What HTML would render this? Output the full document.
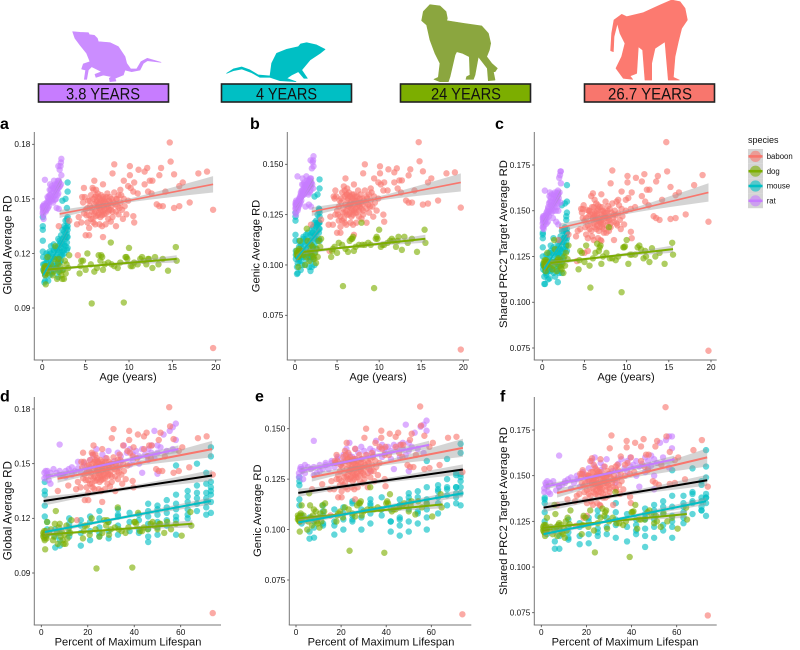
<!DOCTYPE html>
<html lang="en">
<head>
<meta charset="utf-8">
<title>Rate of DNA methylation discordance across species</title>
<style>
html,body{margin:0;padding:0;background:#fff;}
body{width:800px;height:650px;overflow:hidden;}
svg{display:block;font-family:"Liberation Sans",Arial,sans-serif;}
</style>
</head>
<body>
<svg id="chart" xmlns="http://www.w3.org/2000/svg" width="800" height="650" viewBox="0 0 800 650">
  <g>
    <g>
      <path transform="translate(60 20) scale(.33333)" fill="#CB8DFF" stroke="#CB8DFF" stroke-width="2" stroke-linejoin="round" d="M38 35 L60 37 L85 38 L88 44 L103 46 L112 55 L115 65 L150 68 L175 80 L195 110 L200 130 L212 147 L230 147 L243 125 L262 115 L303 127 L262 122 L250 130 L240 150 L215 155 L195 150 L190 165 L165 175 L168 183 L150 185 L148 175 L155 170 L130 165 L108 172 L105 163 L125 155 L95 140 L85 150 L80 178 L73 178 L77 150 L65 147 L70 132 L90 125 L80 100 L60 75 L45 55 Z"/>
      <rect x="38.5" y="84" width="130" height="18" fill="#C77CFF" stroke="#222" stroke-width="1.6"/>
      <text x="66" y="99.5" textLength="74" lengthAdjust="spacingAndGlyphs" font-size="17" fill="#111">3.8 YEARS</text>
    </g>
    <g>
      <path transform="translate(60 20) scale(.33333)" fill="#00BFC4" stroke="#00BFC4" stroke-width="2" stroke-linejoin="round" d="M500 160 L520 147 L545 141 L570 150 L595 165 L630 168 L635 130 L650 100 L680 88 L715 80 L722 72 L740 68 L770 75 L795 88 L780 100 L750 120 L725 150 L742 175 L732 175 L715 155 L695 165 L680 175 L708 185 L660 182 L630 172 L600 172 L575 158 L545 147 L520 152 Z"/>
      <rect x="221.5" y="84" width="130" height="18" fill="#00BFC4" stroke="#222" stroke-width="1.6"/>
      <text x="256" y="99.5" textLength="61" lengthAdjust="spacingAndGlyphs" font-size="17" fill="#111">4 YEARS</text>
    </g>
    <g>
      <path transform="translate(410 0) scale(.33333)" fill="#8BA63F" stroke="#8BA63F" stroke-width="2" stroke-linejoin="round" d="M60 14 L90 18 L108 35 L112 55 L110 62 L160 70 L215 78 L235 100 L242 130 L238 150 L230 170 L245 190 L262 205 L255 215 L250 215 L255 240 L235 242 L232 205 L205 170 L195 225 L190 238 L168 238 L170 230 L180 225 L178 170 L158 160 L140 155 L135 165 L120 230 L115 245 L90 245 L72 238 L85 232 L90 190 L75 160 L60 120 L50 75 L35 62 L40 35 Z"/>
      <rect x="400.5" y="84" width="130" height="18" fill="#7CAE00" stroke="#222" stroke-width="1.6"/>
      <text x="431" y="99.5" textLength="70" lengthAdjust="spacingAndGlyphs" font-size="17" fill="#111">24 YEARS</text>
    </g>
    <g>
      <path transform="translate(410 0) scale(.33333)" fill="#FC7A70" stroke="#FC7A70" stroke-width="2" stroke-linejoin="round" d="M785 0 L810 5 L825 25 L832 60 L815 85 L805 125 L795 170 L790 232 L808 240 L775 240 L768 160 L765 125 L735 145 L725 190 L725 240 L705 240 L698 150 L685 140 L680 220 L660 228 L668 238 L640 235 L618 205 L635 170 L645 130 L630 100 L622 70 L612 110 L610 155 L602 152 L605 100 L612 60 L635 43 L650 50 L700 38 L750 15 Z"/>
      <rect x="584.5" y="84" width="130" height="18" fill="#F8766D" stroke="#222" stroke-width="1.6"/>
      <text x="608" y="99.5" textLength="84" lengthAdjust="spacingAndGlyphs" font-size="17" fill="#111">26.7 YEARS</text>
    </g>
  </g>
  <g id="legend">
    <text x="748" y="143" font-size="9" fill="#111">species</text>
  </g>
</svg>
<script>
const NS = 'http://www.w3.org/2000/svg';
const svg = document.getElementById('chart');

const speciesNames = ['baboon', 'dog', 'mouse', 'rat'];
const speciesColors = ['#F8766D', '#7CAE00', '#00BFC4', '#C77CFF'];
const maxLifespan = [26.7, 24, 4, 3.8];
const drawOrder = [2, 3, 0, 1];

const baboonAge = [19.7,14.7,14.8,15.2,8.3,8.1,10.1,10.1,11.1,11.8,
12.1,13.7,13.5,19,18,15.8,16.2,9.4,10.6,12.4,
12.7,11.8,6,4.8,5.8,7,9,9.9,10.2,10.5,
11,12.2,12.6,14.2,13.2,13.5,13.9,15.2,15.8,17,
19.7,10.5,10.6,4,4.2,3.1,1.9,4.1,7,5,
5.4,8.5,4.6,4.7,5,5.1,5.2,5.4,5.5,5.6,
5.7,5.8,6,6.1,6.1,6.2,6.3,6.3,6.4,6.5,
6.5,6.6,6.7,6.7,6.8,6.9,7,7,7.1,7.2,
7.3,7.4,7.5,7.5,7.6,7.7,7.8,7.9,8,8.1,
8.2,8.3,8.5,8.6,8.7,8.8,9,9.1,9.2,9.4,
9.5,9.7,9.9,4.5,4.8,5.3,5.9,6.6,7.9,
5.5,5.7,5.9,6,6.2,6.2,6.4,6.4,6.5,6.6,
6.6,6.8,6.8,6.9,7,7.1,7.1,7.2,7.3,7.3,
7.4,7.6,7.7,7.8,8,8.1,8.4,8.5,8.9,5.2,
5.4,5.6,5.9,6.1,4.9,8.8,9.3,6.2,7.6,6.9];
const baboonGlobal = [.068,.181,.1705,.1635,.169,.164,.168,.163,.166,.165,
.167,.167,.163,.165,.164,.157,.159,.16,.159,.16,
.16,.158,.16,.156,.156,.158,.155,.157,.156,.154,
.153,.154,.153,.154,.147,.146,.146,.145,.146,.148,
.144,.1405,.137,.136,.14,.138,.135,.119,.129,.13,
.13,.135,.151,.148,.144,.141,.137,.134,.146,.152,
.143,.139,.147,.151,.143,.1405,.149,.145,.153,.147,
.142,.15,.144,.14,.152,.146,.148,.143,.1415,.15,
.136,.145,.153,.147,.143,.149,.151,.144,.146,.14,
.148,.1535,.143,.15,.146,.1415,.148,.152,.144,.15,
.146,.1415,.149,.137,.142,.149,.155,.136,.1375,
.149,.145,.15,.142,.148,.152,.146,.141,.151,.145,
.148,.143,.149,.141,.151,.146,.149,.144,.148,.142,
.151,.146,.144,.148,.15,.143,.147,.15,.145,.145,
.141,.139,.137,.136,.151,.152,.139,.155,.139,.135];
const baboonGenic = [.058,.161,.1515,.1465,.15,.1455,.149,.1455,.1475,.146,
.148,.1475,.1445,.146,.1455,.141,.143,.143,.141,.142,
.142,.141,.143,.137,.139,.14,.138,.141,.14,.137,
.137,.138,.136,.137,.132,.131,.131,.13,.1305,.132,
.1285,.125,.1215,.12,.124,.1225,.12,.107,.115,.116,
.116,.121,.134,.133,.127,.125,.122,.119,.131,.136,
.126,.123,.13,.135,.127,.125,.133,.129,.136,.13,
.126,.134,.128,.124,.135,.13,.132,.127,.126,.134,
.121,.129,.137,.131,.127,.133,.135,.128,.13,.125,
.132,.137,.128,.133,.13,.126,.132,.136,.129,.134,
.131,.127,.133,.12,.125,.132,.137,.121,.123,
.133,.128,.134,.126,.132,.135,.129,.125,.134,.13,
.131,.127,.133,.125,.135,.13,.132,.128,.132,.126,
.134,.13,.129,.131,.133,.127,.131,.134,.129,.129,
.124,.122,.121,.12,.134,.135,.124,.138,.124,.12];
const baboonPrc2 = [.0735,.1875,.1715,.163,.172,.165,.169,.1655,.168,.166,
.17,.169,.166,.1695,.164,.1585,.16,.1605,.16,.1615,
.1615,.158,.1595,.151,.158,.159,.156,.156,.157,.151,
.152,.155,.153,.156,.147,.146,.145,.1455,.146,.148,
.144,.1385,.135,.136,.139,.137,.134,.1225,.1335,.127,
.128,.134,.151,.149,.1445,.141,.137,.135,.147,.15,
.143,.139,.146,.152,.143,.141,.149,.1455,.154,.148,
.142,.151,.1445,.139,.152,.1465,.148,.144,.141,.15,
.138,.146,.155,.147,.142,.15,.1525,.145,.147,.141,
.149,.154,.144,.15,.1475,.143,.1485,.153,.145,.151,
.147,.1425,.15,.14,.146,.1505,.152,.135,.139,
.15,.148,.149,.146,.147,.148,.144,.14,.15,.146,
.153,.141,.144,.143,.15,.145,.152,.143,.147,.14,
.149,.149,.146,.144,.151,.143,.146,.148,.142,.146,
.142,.14,.136,.134,.153,.155,.14,.156,.138,.134];

const dogAge = [.2,.2,.3,.3,.4,.4,.5,.5,.6,1,
1.2,1.4,1.5,1.6,1.7,1.8,2,2.1,2.2,2.4,
2.5,2.6,2.8,3.1,3,4.3,4.4,4.5,4.7,5.2,
5,5.7,5.6,6,6.3,6.5,6.7,6.9,7,7.2,
7.6,7.9,8.3,8.7,9,9.4,9.6,9.8,10,10.2,
10.6,11,11.5,11.7,12,12.2,12.7,13,13.4,13.9,
14.5,15.4,15.5,
.25,.35,.45,.55,.8,1.3,1.9,2.3,2.7,6.8,9.7,11.3,12.3,10.4,8];
const dogGlobal = [.11,.112,.109,.113,.111,.103,.11,.112,.118,.114,
.108,.117,.124,.112,.106,.115,.11,.113,.108,.111,
.106,.116,.114,.119,.112,.109,.113,.116,.116,.12,
.111,.0925,.114,.11,.112,.119,.116,.118,.111,.114,
.115,.126,.113,.112,.115,.093,.118,.117,.123,.113,
.115,.114,.118,.116,.114,.117,.112,.118,.114,.117,
.1105,.1235,.116,
.111,.108,.113,.109,.112,.11,.117,.106,.109,.119,.118,.117,.117,.113,.114];
const dogGenic = [.105,.107,.105,.106,.104,.099,.106,.108,.112,.105,
.1,.118,.112,.106,.102,.107,.105,.109,.104,.106,
.101,.108,.112,.113,.109,.104,.107,.108,.109,.111,
.106,.0895,.11,.108,.1065,.112,.113,.114,.107,.109,
.11,.121,.11,.111,.11,.0885,.113,.113,.1175,.109,
.11,.111,.113,.112,.109,.112,.1075,.114,.111,.113,
.1065,.1175,.111,
.106,.104,.107,.105,.107,.104,.11,.103,.104,.113,.114,.112,.114,.11,.11];
const dogPrc2 = [.12,.122,.119,.123,.121,.117,.12,.122,.127,.122,
.118,.134,.129,.122,.117,.123,.12,.123,.119,.121,
.116,.125,.127,.131,.1235,.118,.123,.128,.127,.131,
.122,.108,.12,.124,.127,.132,.128,.131,.121,.125,
.127,.141,.124,.123,.125,.1055,.13,.1305,.134,.121,
.126,.126,.131,.129,.124,.128,.122,.1295,.125,.127,
.121,.1325,.126,
.121,.119,.123,.12,.121,.12,.124,.118,.12,.13,.13,.13,.125,.126,.124];

const mouseAge = [.06,.06,.06,.06,.06,.1,.1,.24,.24,.24,
.32,.32,.32,.48,.48,.48,.48,.68,.68,.68,
.68,.84,.84,.84,.84,1,1,1,1,1.16,
1.16,1.16,1.32,1.32,1.32,1.32,1.52,1.52,1.52,1.68,
1.68,1.84,1.84,1.84,1.84,1.84,2,2,2,2,
2,2.16,2.16,2.16,2.16,2.32,2.32,2.32,2.32,2.32,
2.52,2.52,2.52,2.52,2.68,2.68,2.68,2.68,2.68,2.84,
2.84,2.84,2.84,2.84,2.92,2.92,2.92,2.92,2.92,
.1,.48,1,1.32,1.68,1.68,1.84,1.84,2,2.16,
2.32,2.32,2.52,2.52,2.68,2.84,2.84,2.92,2.92,2.92];
const mouseGlobal = [.14,.135,.133,.127,.121,.118,.111,.104,.11,.114,
.105,.108,.112,.12,.115,.11,.112,.105,.112,.116,
.119,.108,.113,.118,.121,.11,.115,.12,.124,.109,
.113,.118,.111,.116,.121,.125,.113,.118,.123,.112,
.119,.107,.11,.117,.121,.128,.111,.115,.118,.122,
.127,.119,.123,.126,.13,.111,.121,.125,.149,.133,
.12,.125,.135,.129,.124,.128,.131,.138,.15,.122,
.126,.134,.139,.145,.123,.133,.14,.154,.159,
.114,.117,.112,.122,.114,.122,.114,.124,.125,.116,
.128,.119,.132,.122,.134,.129,.131,.129,.137,.135];
const mouseGenic = [.126,.124,.122,.115,.112,.107,.103,.0955,.099,.106,
.096,.101,.104,.112,.107,.102,.103,.0975,.102,.104,
.11,.1,.105,.108,.111,.104,.107,.113,.114,.1,
.106,.11,.103,.108,.112,.115,.107,.11,.116,.099,
.104,.097,.102,.106,.112,.115,.099,.104,.11,.116,
.118,.103,.109,.116,.119,.1,.106,.113,.134,.121,
.108,.116,.122,.119,.112,.117,.12,.125,.135,.113,
.116,.121,.127,.128,.112,.121,.1275,.138,.1425,
.105,.109,.105,.113,.104,.11,.105,.112,.114,.108,
.115,.11,.12,.113,.121,.121,.118,.118,.124,.126];
const mousePrc2 = [.138,.137,.135,.13,.125,.121,.118,.11,.114,.12,
.11,.117,.121,.126,.119,.115,.116,.1125,.117,.122,
.124,.113,.118,.125,.127,.119,.121,.128,.131,.118,
.122,.127,.116,.123,.126,.135,.114,.122,.129,.118,
.123,.111,.121,.126,.129,.132,.116,.122,.126,.131,
.134,.123,.129,.133,.136,.116,.125,.133,.153,.139,
.124,.13,.139,.133,.129,.136,.135,.141,.154,.131,
.131,.138,.145,.147,.128,.135,.149,.155,.164,
.12,.122,.117,.13,.12,.126,.117,.127,.129,.12,
.128,.122,.135,.127,.14,.133,.136,.138,.14,.138];

const ratAge = [.05,.05,.07,.08,.1,.1,.12,.15,.15,.2,
.25,.3,.3,.3,.35,.4,.45,.5,.5,.55,
.6,.65,.7,.7,.8,.8,.85,.9,.95,1,
1.05,1.1,1.15,1.2,1.25,1.3,1.35,1.4,1.45,1.5,
1.55,1.6,1.65,1.7,1.75,1.8,1.85,1.9,1.95,2,
2.05,2.1,2.15,2.2,2.2,2.15,1.9,1.85,
.4,.6,.75,.9,1,1.1,1.25,1.3,1.45,1.5,1.6,1.65,1.75,1.8,1.9];
const ratGlobal = [.142,.145,.146,.143,.144,.146,.141,.139,.145,.147,
.145,.1435,.146,.1605,.144,.146,.147,.144,.148,.146,
.1475,.145,.149,.1505,.148,.152,.155,.158,.15,.1495,
.153,.157,.15,.1515,.148,.154,.16,.156,.1495,.152,
.157,.154,.145,.155,.158,.16,.153,.156,.159,.166,
.157,.168,.17,.172,.163,.158,.1445,.168,
.143,.151,.146,.152,.155,.149,.156,.151,.158,.155,.15,.158,.152,.156,.16];
const ratGenic = [.126,.128,.13,.131,.13,.129,.125,.128,.132,.131,
.13,.127,.131,.144,.128,.132,.13,.133,.132,.13,
.134,.131,.135,.136,.134,.137,.14,.143,.136,.135,
.138,.141,.139,.137,.129,.139,.144,.14,.136,.138,
.141,.139,.13,.14,.142,.143,.137,.139,.141,.148,
.14,.151,.152,.154,.149,.138,.129,.152,
.129,.133,.132,.137,.14,.135,.14,.137,.142,.14,.135,.142,.136,.14,.143];
const ratPrc2 = [.143,.141,.146,.145,.147,.144,.141,.14,.146,.147,
.142,.144,.144,.161,.145,.146,.148,.143,.149,.146,
.15,.144,.151,.152,.147,.154,.158,.16,.15,.153,
.155,.159,.151,.1525,.146,.1565,.159,.154,.152,.155,
.156,.158,.144,.1565,.16,.158,.1555,.15,.157,.168,
.16,.1695,.1715,.1715,.165,.1545,.1425,.161,
.147,.148,.149,.155,.157,.149,.153,.15,.158,.16,.15,.155,.152,.154,.159];

const agesBySpecies = [baboonAge, dogAge, mouseAge, ratAge];
const globalBySpecies = [baboonGlobal, dogGlobal, mouseGlobal, ratGlobal];
const genicBySpecies = [baboonGenic, dogGenic, mouseGenic, ratGenic];
const prc2BySpecies = [baboonPrc2, dogPrc2, mousePrc2, ratPrc2];

const ageTicks = [0, 5, 10, 15, 20];
const percentTicks = [0, 20, 40, 60];
const globalTicks = ['0.09', '0.12', '0.15', '0.18'];
const genicTicks = ['0.075', '0.100', '0.125', '0.150'];
const prc2Ticks = ['0.075', '0.100', '0.125', '0.150', '0.175'];

/* fitted trends: species index (4 = all species), x start, x end, y start, y end, CI half width at start / narrowest / end */
const fitGlobalAge = [[0,2,19.7,.1417,.158,.0022,.001,.0045],[1,.3,15.5,.111,.117,.0012,.0006,.002],[2,.1,2.9,.108,.132,.002,.001,.002],[3,.1,2.2,.142,.16,.0015,.0008,.002]];
const fitGenicAge = [[0,2,19.7,.1265,.141,.0022,.001,.0045],[1,1,15.5,.1065,.113,.0012,.0006,.002],[2,.1,2.9,.103,.117,.002,.001,.002],[3,.1,2.2,.1275,.1415,.0015,.0008,.002]];
const fitPrc2Age = [[0,2,19.7,.1405,.16,.0025,.001,.005],[1,1,15.5,.1215,.129,.0012,.0006,.002],[2,.2,2.9,.118,.137,.002,.001,.002],[3,.1,2.2,.143,.16,.0015,.0008,.002]];
const fitGlobalPct = [[0,7,73.5,.1417,.158,.0022,.001,.0045],[1,1,65,.111,.117,.001,.0005,.002],[2,1.5,73,.1125,.1295,.0015,.0008,.002],[3,2,59,.1425,.158,.0015,.0008,.002],[4,1,73.5,.1295,.1435,.0025,.001,.003]];
const fitGenicPct = [[0,7,74,.126,.1405,.0022,.001,.0045],[1,1,65,.1055,.1125,.001,.0005,.002],[2,1,74,.1035,.118,.0015,.0008,.002],[3,2,59,.129,.142,.0015,.0008,.002],[4,1,74,.1182,.1298,.002,.001,.0025]];
const fitPrc2Pct = [[0,7,73.5,.1405,.16,.0025,.001,.005],[1,1,64.5,.1215,.129,.001,.0005,.002],[2,1,73,.118,.136,.0015,.0008,.002],[3,2,59,.144,.159,.0015,.0008,.002],[4,1,73.5,.1325,.1475,.0025,.001,.003]];

function linearScale(v0, p0, v1, p1) {
  return function (v) { return p0 + (v - v0) * (p1 - p0) / (v1 - v0); };
}

function make(parent, tag, attrs, text) {
  const el = document.createElementNS(NS, tag);
  for (const k in attrs) el.setAttribute(k, attrs[k]);
  if (text !== undefined) el.textContent = text;
  parent.appendChild(el);
  return el;
}

function drawPanel(cfg) {
  const g = make(svg, 'g', {});
  
  
  const sx = linearScale(cfg.xv[0], cfg.xp[0], cfg.xv[1], cfg.xp[1]);
  const sy = linearScale(cfg.yv[0], cfg.yp[0], cfg.yv[1], cfg.yp[1]);

  const points = make(g, 'g', {});
  
  
  drawOrder.forEach(function (s) {
    const xs = agesBySpecies[s];
    const ys = cfg.values[s];
    const n = Math.min(xs.length, ys.length);
    for (let i = 0; i < n; i++) {
      const xv = cfg.percent ? xs[i] / maxLifespan[s] * 100 : xs[i];
      const c = make(points, 'circle', { cx: sx(xv).toFixed(2), cy: sy(ys[i]).toFixed(2), r: 3.2, fill: speciesColors[s], 'fill-opacity': 0.62 });
      
      
    }
  });

  cfg.fits.forEach(function (f) {
    const color = f[0] === 4 ? '#000000' : speciesColors[f[0]];
    const label = f[0] === 4 ? 'all-species' : speciesNames[f[0]];
    const up = [], down = [];
    const steps = 12, m = 0.4;
    for (let k = 0; k <= steps; k++) {
      const t = k / steps;
      const edge = t < m ? f[5] : f[7];
      const span = t < m ? m : 1 - m;
      const u = (t - m) / span;
      const ci = Math.sqrt(f[6] * f[6] + u * u * (edge * edge - f[6] * f[6]));
      const xv = f[1] + (f[2] - f[1]) * t;
      const yv = f[3] + (f[4] - f[3]) * t;
      up.push(sx(xv).toFixed(1) + ',' + sy(yv + ci).toFixed(1));
      down.unshift(sx(xv).toFixed(1) + ',' + sy(yv - ci).toFixed(1));
    }
    const ribbon = make(g, 'polygon', { points: up.concat(down).join(' '), fill: '#999999', 'fill-opacity': 0.42 });
    
    
    const line = make(g, 'line', { x1: sx(f[1]), y1: sy(f[3]), x2: sx(f[2]), y2: sy(f[4]), stroke: color, 'stroke-width': (cfg.percent || f[0] === 1) ? 2 : 1.6 });
    
    
  });

  const axisColor = '#777777';
  const yAxis = make(g, 'line', { x1: cfg.axisX, y1: cfg.axisTop, x2: cfg.axisX, y2: cfg.axisBottom, stroke: axisColor, 'stroke-width': 1 });
  
  
  const xAxis = make(g, 'line', { x1: cfg.axisX - 0.5, y1: cfg.axisBottom, x2: cfg.axisRight, y2: cfg.axisBottom, stroke: axisColor, 'stroke-width': 1 });
  
  

  cfg.xTicks.forEach(function (v) {
    const t = make(g, 'line', { x1: sx(v), y1: cfg.axisBottom, x2: sx(v), y2: cfg.axisBottom + 2.2, stroke: '#444', 'stroke-width': 0.8 });
    
    
    const l = make(g, 'text', { x: sx(v), y: cfg.axisBottom + 10, 'text-anchor': 'middle', 'font-size': 8.2, fill: '#111' }, String(v));
    
    
  });
  cfg.yTicks.forEach(function (s) {
    const v = parseFloat(s);
    const t = make(g, 'line', { x1: cfg.axisX - 2.2, y1: sy(v), x2: cfg.axisX, y2: sy(v), stroke: '#444', 'stroke-width': 0.8 });
    
    
    const l = make(g, 'text', { x: cfg.axisX - 4, y: sy(v) + 2.9, 'text-anchor': 'end', 'font-size': 8.2, fill: '#111' }, s);
    
    
  });

  const xt = make(g, 'text', { x: cfg.xTitleX, y: cfg.axisBottom + 20.5, 'text-anchor': 'middle', 'font-size': 11.1, fill: '#111' }, cfg.xTitle);
  
  
  const yt = make(g, 'text', { transform: 'translate(' + cfg.yTitleX + ',' + cfg.yTitleY + ') rotate(-90)', 'text-anchor': 'middle', 'font-size': cfg.yTitleSize, fill: '#111' }, cfg.yTitle);
  
  
  const pl = make(g, 'text', { x: cfg.labelX, y: cfg.labelY, 'font-size': 16, 'font-weight': 'bold', fill: '#000' }, cfg.letter);
  
  
}

const ageTitle = 'Age (years)';
const pctTitle = 'Percent of Maximum Lifespan';

drawPanel({ letter: 'a', percent: false, values: globalBySpecies, fits: fitGlobalAge, xv: [0, 20], xp: [42.3, 215.7], yv: [.09, .18], yp: [308, 144.3], axisX: 34.3, axisRight: 221, axisTop: 132, axisBottom: 360, xTicks: ageTicks, yTicks: globalTicks, xTitle: ageTitle, xTitleX: 128, yTitle: 'Global Average RD', yTitleSize: 11.6, yTitleX: 11.5, yTitleY: 245, labelX: 0, labelY: 129 });
drawPanel({ letter: 'b', percent: false, values: genicBySpecies, fits: fitGenicAge, xv: [0, 20], xp: [295, 463.3], yv: [.075, .15], yp: [315.3, 164.3], axisX: 287.3, axisRight: 469, axisTop: 132, axisBottom: 360, xTicks: ageTicks, yTicks: genicTicks, xTitle: ageTitle, xTitleX: 378, yTitle: 'Genic Average RD', yTitleSize: 11.2, yTitleX: 259.5, yTitleY: 246, labelX: 250, labelY: 129 });
drawPanel({ letter: 'c', percent: false, values: prc2BySpecies, fits: fitPrc2Age, xv: [0, 20], xp: [542.3, 711], yv: [.075, .175], yp: [348, 165], axisX: 534.3, axisRight: 716.7, axisTop: 132, axisBottom: 360, xTicks: ageTicks, yTicks: prc2Ticks, xTitle: ageTitle, xTitleX: 626, yTitle: 'Shared PRC2 Target Average RD', yTitleSize: 11.3, yTitleX: 507, yTitleY: 244, labelX: 495, labelY: 129 });
drawPanel({ letter: 'd', percent: true, values: globalBySpecies, fits: fitGlobalPct, xv: [0, 60], xp: [41.3, 180.7], yv: [.09, .18], yp: [573, 409], axisX: 34.3, axisRight: 221, axisTop: 397, axisBottom: 625, xTicks: percentTicks, yTicks: globalTicks, xTitle: pctTitle, xTitleX: 128, yTitle: 'Global Average RD', yTitleSize: 11.6, yTitleX: 11.5, yTitleY: 510.7, labelX: 0, labelY: 401.7 });
drawPanel({ letter: 'e', percent: true, values: genicBySpecies, fits: fitGenicPct, xv: [0, 60], xp: [296, 431.3], yv: [.075, .15], yp: [580, 428.7], axisX: 289.3, axisRight: 471.3, axisTop: 397, axisBottom: 625, xTicks: percentTicks, yTicks: genicTicks, xTitle: pctTitle, xTitleX: 381, yTitle: 'Genic Average RD', yTitleSize: 11.2, yTitleX: 261, yTitleY: 510.7, labelX: 255, labelY: 401.7 });
drawPanel({ letter: 'f', percent: true, values: prc2BySpecies, fits: fitPrc2Pct, xv: [0, 60], xp: [541.3, 676.7], yv: [.075, .175], yp: [612.7, 430], axisX: 534.3, axisRight: 716.7, axisTop: 397, axisBottom: 625, xTicks: percentTicks, yTicks: prc2Ticks, xTitle: pctTitle, xTitleX: 625, yTitle: 'Shared PRC2 Target Average RD', yTitleSize: 11.3, yTitleX: 507, yTitleY: 511, labelX: 500, labelY: 401.7 });

const legend = document.getElementById('legend');
speciesNames.forEach(function (name, i) {
  const top = 149 + i * 14.8;
  const bg = make(legend, 'rect', { x: 748, y: top, width: 15, height: 14.8, fill: '#d4d4d4' });
  
  
  const c = make(legend, 'circle', { cx: 755.5, cy: top + 7.4, r: 5.6, fill: speciesColors[i], 'fill-opacity': 0.6 });
  
  
  const l = make(legend, 'line', { x1: 748.5, y1: top + 7.4, x2: 762.5, y2: top + 7.4, stroke: speciesColors[i], 'stroke-width': 2.6 });
  
  
  const t = make(legend, 'text', { x: 766.7, y: top + 10, 'font-size': 7.8, fill: '#111' }, name);
  
  
});
</script>
</body>
</html>
